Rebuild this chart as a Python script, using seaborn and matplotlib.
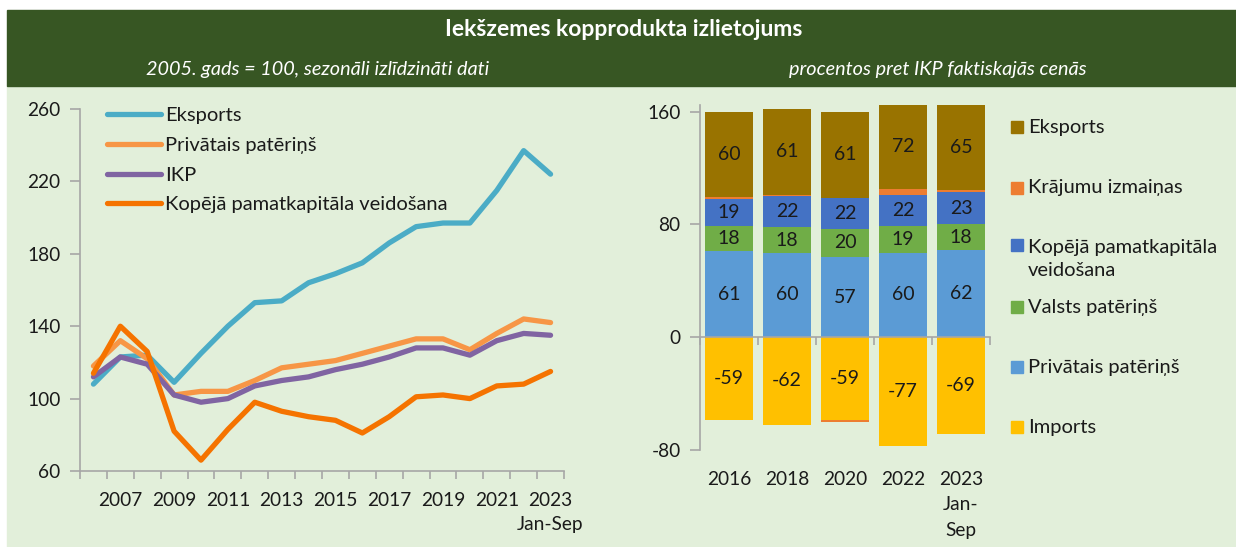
import numpy as np
import pandas as pd
import matplotlib
matplotlib.use("Agg")
import matplotlib.pyplot as plt
from matplotlib.patches import Rectangle
import seaborn as sns

# --- left chart: index, 2005 = 100, seasonally adjusted
years = list(range(2006, 2024))
eksports = [108, 123, 124, 109, 125, 140, 153, 154, 164, 169, 175, 186, 195, 197, 197, 215, 237, 224]
privatais = [118, 132, 122, 102, 104, 104, 110, 117, 119, 121, 125, 129, 133, 133, 127, 136, 144, 142]
ikp = [112, 123, 119, 102, 98, 100, 107, 110, 112, 116, 119, 123, 128, 128, 124, 132, 136, 135]
kapitals = [114, 140, 126, 82, 66, 83, 98, 93, 90, 88, 81, 90, 101, 102, 100, 107, 108, 115]
line_names = ["Eksports", "Privātais patēriņš", "IKP", "Kopējā pamatkapitāla veidošana"]
line_colors = ["#4BACC6", "#F79646", "#8064A2", "#F57300"]

# --- right chart: percent of GDP at current prices
bar_cats = ["2016", "2018", "2020", "2022", "2023\nJan-\nSep"]
priv_b = [61, 60, 57, 60, 62]
valsts_b = [18, 18, 20, 19, 18]
kap_b = [19, 22, 22, 22, 23]
kraj_b = [1.5, 1, -1.2, 4, 1.5]
eksp_b = [60, 61, 61, 72, 65]
imp_b = [-59, -62, -59, -77, -69]
bar_names = ["Eksports", "Krājumu izmaiņas", "Kopējā pamatkapitāla\nveidošana",
             "Valsts patēriņš", "Privātais patēriņš", "Imports"]
bar_colors = ["#997300", "#ED7D31", "#4472C4", "#70AD47", "#5B9BD5", "#FFC000"]

W, H = 1236, 547
def fx(x): return x / W
def fy(y): return 1 - y / H

sns.set_style("ticks")
plt.rcParams["font.family"] = ["Lato", "DejaVu Sans"]
plt.rcParams["axes.unicode_minus"] = False
txt = "#1a1a1a"
grey = "#A6A6A6"
bg = "#E2EFDA"
dark = "#375623"
fs = 14.5

fig = plt.figure(figsize=(W / 100, H / 100), dpi=100)
fig.patch.set_facecolor("white")
fig.add_artist(Rectangle((fx(7), fy(547)), 1 - fx(7), fy(86) - fy(547),
                         transform=fig.transFigure, color=bg, zorder=0))
fig.add_artist(Rectangle((fx(7), fy(86)), 1 - fx(7), fy(10) - fy(86),
                         transform=fig.transFigure, color=dark, zorder=0))
fig.text(fx(624), fy(30), "Iekšzemes kopprodukta izlietojums", color="white",
         fontsize=16.5, fontweight="bold", ha="center", va="center")
fig.text(fx(318), fy(69), "2005. gads = 100, sezonāli izlīdzināti dati", color="white",
         fontsize=14.3, style="italic", ha="center", va="center")
fig.text(fx(938), fy(69), "procentos pret IKP faktiskajās cenās", color="white",
         fontsize=14.3, style="italic", ha="center", va="center")

# ---------------- left: lines
ax = fig.add_axes([fx(80), fy(471), fx(564) - fx(80), fy(109) - fy(471)])
ax.set_facecolor("none")
df_line = pd.DataFrame({"year": years * 4,
                        "value": eksports + privatais + ikp + kapitals,
                        "series": np.repeat(line_names, len(years))})
sns.lineplot(data=df_line, x="year", y="value", hue="series", hue_order=line_names,
             palette=dict(zip(line_names, line_colors)), linewidth=3.8, ax=ax)
ax.set_xlim(2005.5, 2023.5)
ax.set_ylim(60, 260)
ax.set_yticks(range(60, 261, 40))
ax.set_xticks(np.arange(2005.5, 2024, 1))
ax.set_xticklabels([])
ax.set_xticks(range(2007, 2024, 2), minor=True)
ax.set_xticklabels([str(y) for y in range(2007, 2023, 2)] + ["2023\nJan-Sep"], minor=True,
                   linespacing=1.5)
ax.tick_params(axis="x", which="major", length=6, width=1.2, color=grey)
ax.tick_params(axis="x", which="minor", length=0, pad=15, labelsize=13.8, labelcolor=txt)
ax.tick_params(axis="y", length=7, width=1.2, color=grey, pad=7, labelsize=13.8, labelcolor=txt)
for s in ["top", "right"]:
    ax.spines[s].set_visible(False)
for s in ["left", "bottom"]:
    ax.spines[s].set_color(grey)
    ax.spines[s].set_linewidth(1.2)
ax.set_xlabel("")
ax.set_ylabel("")
sns.move_legend(ax, "upper left", bbox_to_anchor=(fx(107), fy(107)),
                bbox_transform=fig.transFigure, frameon=False, title=None,
                fontsize=fs, handlelength=2.7, handletextpad=0.2,
                labelspacing=0.63, borderpad=0, borderaxespad=0)
for h in ax.get_legend().get_lines():
    h.set_linewidth(3.8)
for t in ax.get_legend().get_texts():
    t.set_color(txt)

# ---------------- right: stacked bars
ax2 = fig.add_axes([fx(700), fy(450), fx(990) - fx(700), fy(104.7) - fy(450)])
ax2.set_facecolor("none")
df_bar = pd.DataFrame({"cat": bar_cats, "priv": priv_b, "valsts": valsts_b, "kap": kap_b,
                       "kraj": kraj_b, "eksp": eksp_b, "imp": imp_b})
pos_kraj = df_bar["kraj"].clip(lower=0)
neg_kraj = df_bar["kraj"].clip(upper=0)
layers = [
    ("priv", df_bar["priv"], np.zeros(len(df_bar)), bar_colors[4], True),
    ("valsts", df_bar["valsts"], df_bar["priv"], bar_colors[3], True),
    ("kap", df_bar["kap"], df_bar["priv"] + df_bar["valsts"], bar_colors[2], True),
    ("kraj", pos_kraj + neg_kraj,
     np.where(df_bar["kraj"] >= 0, df_bar["priv"] + df_bar["valsts"] + df_bar["kap"], df_bar["imp"]),
     bar_colors[1], False),
    ("eksp", df_bar["eksp"], df_bar["priv"] + df_bar["valsts"] + df_bar["kap"] + pos_kraj,
     bar_colors[0], True),
    ("imp", df_bar["imp"], np.zeros(len(df_bar)), bar_colors[5], True),
]
ymax = 165
for col, heights, bottoms, color, show in layers:
    d = pd.DataFrame({"cat": bar_cats, "h": np.asarray(heights, dtype=float)})
    sns.barplot(data=d, x="cat", y="h", bottom=np.asarray(bottoms, dtype=float),
                color=color, saturation=1, width=0.83, linewidth=0, ax=ax2, zorder=2)
    if show:
        for i, (hh, bb) in enumerate(zip(d["h"], np.asarray(bottoms, dtype=float))):
            top = min(bb + hh, ymax)
            ax2.text(i, (bb + top) / 2, f"{int(round(hh))}", ha="center", va="center",
                     fontsize=14, color=txt, zorder=3)
ax2.set_xlim(-0.5, 4.5)
ax2.set_ylim(-80, ymax)
ax2.set_yticks([-80, 0, 80, 160])
ax2.set_yticklabels(["-80", "0", "80", "160"])
ax2.spines["bottom"].set_position(("data", 0))
ax2.set_xticks(np.arange(-0.5, 5, 1))
ax2.set_xticklabels([])
ax2.tick_params(axis="x", length=6, width=1.2, color=grey)
ax2.tick_params(axis="y", length=7, width=1.2, color=grey, pad=7, labelsize=13.8, labelcolor=txt)
for s in ["top", "right"]:
    ax2.spines[s].set_visible(False)
for s in ["left", "bottom"]:
    ax2.spines[s].set_color(grey)
    ax2.spines[s].set_linewidth(1.2)
ax2.spines["bottom"].set_zorder(4)
ax2.set_xlabel("")
ax2.set_ylabel("")
sec = ax2.secondary_xaxis("bottom")
sec.set_xticks(range(len(bar_cats)))
sec.set_xticklabels(bar_cats, fontsize=13.8, color=txt, linespacing=1.6)
sec.tick_params(length=0, pad=15)
sec.spines["bottom"].set_visible(False)

# right legend
leg_y = [127, 188, 245, 307, 367, 427]
for name, color, y in zip(bar_names, bar_colors, leg_y):
    fig.add_artist(Rectangle((fx(1011), fy(y + 6)), fx(12), 12 / H,
                             transform=fig.transFigure, color=color))
    n_lines = name.count("\n")
    fig.text(fx(1028), fy(y + 14 * n_lines), name, fontsize=fs, color=txt,
             ha="left", va="center", linespacing=1.4)

fig.savefig("out.png", dpi=100)
